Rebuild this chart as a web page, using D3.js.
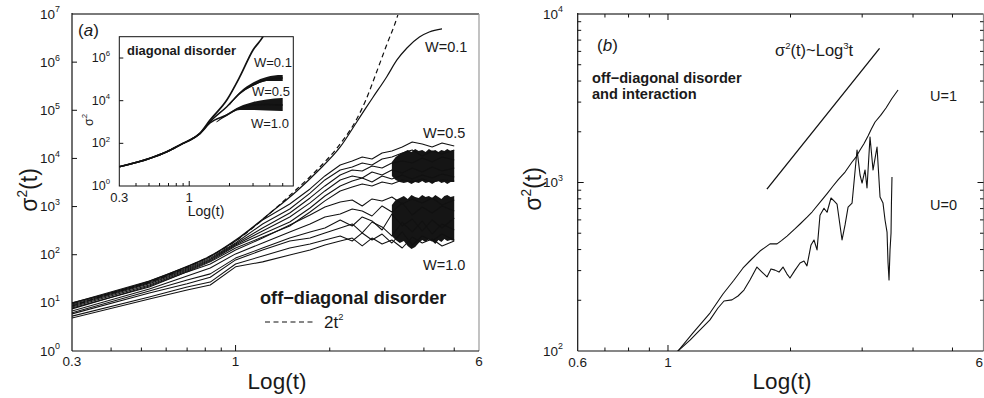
<!DOCTYPE html>
<html>
<head>
<meta charset="utf-8">
<script src="https://cdn.jsdelivr.net/npm/d3@7"></script>
<style>
  body { margin: 0; background: #fff; }
  svg { display: block; font-family: "Liberation Sans", Arial, sans-serif; }
</style>
</head>
<body>
<svg id="fig" width="984" height="398"></svg>
<script>
// ---------------- data: panel (a), off-diagonal disorder ----------------
// shared log(t) grid for the W=0.5 and W=1.0 runs
const mainGrid = [0.30, 0.53, 0.70, 0.83, 1.00, 1.22, 1.49, 1.73, 1.93, 2.16, 2.36,
                  2.54, 2.73, 2.94, 3.16, 3.41, 3.67, 3.95, 4.25, 4.57, 5.00];

const w05Runs = [
  [9.9, 28.5, 56, 90, 193, 526, 1130, 2320, 4320, 7300, 8850, 10720, 9730, 12980, 14280, 17300, 21950, 19950, 17300, 20900, 18100],
  [9.5, 27, 53, 85, 175, 435, 891, 1910, 3570, 5750, 6640, 8040, 7300, 9730, 10720, 12980, 14970, 11240, 14280, 12370, 14970],
  [9.0, 26, 50.5, 81, 167, 359, 736, 1510, 2680, 4530, 5750, 5480, 6960, 6330, 8040, 8850, 8040, 10210, 8440, 10720, 9290],
  [8.6, 25, 48, 78, 159, 311, 608, 1190, 2110, 3570, 4320, 3920, 5230, 4530, 5750, 4980, 6330, 5230, 6640, 5480, 6330],
  [8.2, 23.5, 46, 74, 152, 269, 478, 934, 1660, 2680, 3400, 3920, 3240, 4320, 3740, 4530, 3740, 4530, 3920, 4750, 4120],
  [7.8, 21.3, 44, 71, 138, 233, 395, 772, 1310, 2110, 2550, 2940, 2680, 3240, 2940, 3570, 3240, 3740, 3240, 3570, 3400]
];

const w10Runs = [
  [7.5, 22.4, 44, 64, 125, 222, 414, 668, 980, 1250, 1370, 1030, 1440, 1310, 1580, 1130, 1440, 1190, 1510, 1080, 1370],
  [6.8, 19.4, 36, 53, 104, 175, 297, 435, 608, 701, 891, 809, 637, 1030, 772, 1190, 668, 980, 736, 1030, 809],
  [6.2, 17.6, 30, 40, 85, 138, 222, 297, 359, 526, 395, 608, 502, 326, 701, 395, 552, 311, 526, 359, 579],
  [5.9, 16, 25, 34, 78, 125, 193, 222, 283, 359, 435, 283, 478, 377, 245, 478, 297, 502, 269, 435, 326],
  [5.3, 13.2, 21.3, 27, 64, 94, 138, 167, 202, 245, 193, 283, 202, 269, 175, 297, 159, 245, 193, 269, 202],
  [4.85, 12, 18.5, 23.5, 56, 71, 99, 125, 159, 193, 222, 152, 222, 167, 202, 138, 233, 175, 212, 152, 193]
];

// envelopes of the strongly fluctuating late-time parts
const bandGrid = [3.16, 3.25, 3.35, 3.45, 3.55, 3.65, 3.75, 3.85, 3.95, 4.05,
                  4.15, 4.25, 4.35, 4.45, 4.55, 4.65, 4.75, 4.87, 5.00];
const w05BandHi = [8440, 10720, 12370, 13620, 14970, 13620, 15700, 14280, 14970, 13620,
                   15700, 14280, 14970, 13620, 14970, 14280, 15700, 14280, 14970];
const w05BandLo = [4320, 3570, 3240, 3090, 3240, 2940, 3240, 3090, 3400, 3090,
                   3240, 2940, 3240, 3400, 3090, 3240, 2940, 3240, 3240];
const w10BandHi = [1080, 1370, 1510, 1660, 1440, 1740, 1580, 1510, 1740, 1580,
                   1660, 1510, 1740, 1580, 1440, 1660, 1740, 1580, 1660];
const w10BandLo = [245, 202, 175, 193, 152, 131, 145, 175, 202, 184,
                   212, 193, 167, 202, 184, 212, 193, 202, 193];

const w01Run = [[0.30, 10], [0.396, 16], [0.532, 28.5], [0.704, 58], [0.83, 94], [1.00, 202],
  [1.29, 736], [1.57, 2110], [1.82, 5230], [2.16, 17300], [2.44, 57100], [2.61, 112000], [2.74, 180000],
  [3.04, 492000], [3.28, 1.11e6], [3.53, 1.97e6], [3.87, 3.33e6], [4.16, 4.24e6], [4.57, 4.89e6]];

// ballistic reference 2t^2
const ballistic = [[0.30, 8.6], [0.396, 15.3], [0.532, 27], [0.704, 56], [1.00, 192], [1.29, 736],
  [1.57, 2320], [1.82, 5750], [2.16, 20000], [2.44, 66000], [2.61, 164000], [2.80, 540000],
  [3.04, 2.27e6], [3.30, 9.5e6], [3.37, 1.54e7]];

// ---------------- data: inset, diagonal disorder ----------------
const insetW01 = [[0.30, 8], [0.51, 20], [0.68, 40.5], [0.90, 100], [1.01, 143], [1.20, 296],
  [1.43, 1240], [1.91, 10760], [2.39, 1.33e5], [3.00, 2.38e6], [3.56, 1e7], [3.80, 2.2e7]];
const insetW05 = [[0.30, 8], [0.51, 20], [0.68, 40.5], [0.90, 100], [1.01, 143], [1.20, 290],
  [1.43, 1035], [1.91, 5220], [2.39, 2.22e4], [3.00, 5.43e4], [3.79, 9.3e4], [4.92, 1.15e5], [5.00, 1.15e5]];
const insetW10 = [[0.30, 8], [0.51, 20], [0.68, 40.5], [0.90, 100], [1.01, 140], [1.20, 280],
  [1.43, 899], [1.91, 2130], [2.39, 4540], [3.00, 6270], [3.79, 6600], [4.92, 6270], [5.00, 6270]];
const insetBand05X = [2.00, 2.39, 3.00, 3.79, 4.92, 5.00];
const insetBand05Hi = [6620, 25500, 71100, 1.29e5, 1.60e5, 1.60e5];
const insetBand05Lo = [5940, 20600, 48700, 8.37e4, 8.37e4, 8.37e4];
const insetBand10X = [1.60, 1.91, 2.39, 3.00, 3.79, 4.92, 5.00];
const insetBand10Hi = [1057, 2375, 5330, 8670, 11360, 13400, 13400];
const insetBand10Lo = [948, 1914, 3655, 3655, 3465, 3280, 3280];

// ---------------- data: panel (b), disorder and interaction ----------------
const u1Run = [[1.04, 95], [1.058, 100], [1.152, 128], [1.268, 168], [1.365, 218], [1.45, 262],
  [1.529, 311], [1.60, 348], [1.683, 392], [1.781, 432], [1.853, 432], [1.90, 452], [1.961, 481],
  [2.05, 530], [2.111, 567], [2.20, 625], [2.259, 668], [2.390, 788], [2.46, 860], [2.544, 953],
  [2.62, 1040], [2.723, 1154], [2.833, 1323], [2.90, 1420], [2.964, 1559], [3.03, 1700],
  [3.101, 1888], [3.16, 2080], [3.227, 2286], [3.33, 2500], [3.433, 2768], [3.55, 3150], [3.675, 3540]];

const u0Run = [[1.05, 95], [1.058, 100], [1.133, 116], [1.179, 128], [1.268, 153], [1.327, 180],
  [1.373, 198], [1.436, 201], [1.486, 212], [1.537, 230], [1.590, 264], [1.654, 315], [1.702, 294],
  [1.751, 275], [1.791, 307], [1.832, 302], [1.874, 294], [1.917, 315], [1.961, 286], [1.994, 271],
  [2.052, 302], [2.111, 333], [2.158, 342], [2.195, 320], [2.246, 426], [2.284, 456], [2.324, 398],
  [2.363, 639], [2.417, 703], [2.459, 666], [2.515, 809], [2.558, 777], [2.602, 745], [2.677, 456],
  [2.723, 560], [2.770, 715], [2.833, 755], [2.914, 1559], [2.964, 1108], [2.998, 993], [3.049, 1187],
  [3.083, 928], [3.136, 1862], [3.190, 1187], [3.263, 1624], [3.319, 820], [3.375, 755], [3.414, 599],
  [3.453, 508], [3.472, 337], [3.492, 264], [3.512, 398], [3.532, 502], [3.540, 756], [3.551, 1078]];

const powerLaw = [[1.75, 914], [3.31, 6250]];

// tick values
const mainXMinor = [0.4, 0.5, 0.6, 0.7, 0.8, 0.9, 2, 3, 4, 5];
const mainXLabels = [[0.3, "0.3"], [1, "1"], [6, "6"]];
const mainYExp = [0, 1, 2, 3, 4, 5, 6, 7];
const insetYExp = [0, 2, 4, 6];
const insetXLabels = [[0.3, "0.3"], [1, "1"]];
const rightXMinor = [0.7, 0.8, 0.9, 2, 3, 4, 5];
const rightXLabels = [[0.6, "0.6"], [1, "1"]];
const rightYExp = [2, 3, 4];
const rightYMinor = [200, 300, 400, 500, 600, 700, 800, 900, 2000, 3000, 4000, 5000, 6000, 7000, 8000, 9000];

// ---------------- drawing ----------------
const svg = d3.select("#fig");
const INK = "#111";
const TXT = "#1a1a1a";
const defs = svg.append("defs");

function clip(id, x, y, w, h) {
  defs.append("clipPath").attr("id", id).append("rect")
    .attr("x", x).attr("y", y).attr("width", w).attr("height", h);
  return "url(#" + id + ")";
}

// rich text: parts = [text, {sup:"2"}, {it:"a"}, ...]
function rich(g, x, y, parts, o) {
  const fs = o.size;
  const t = g.append("text").attr("x", x).attr("y", y)
    .attr("font-size", fs).attr("fill", TXT)
    .attr("text-anchor", o.anchor || "start")
    .attr("font-weight", o.weight || "normal");
  if (o.transform) t.attr("transform", o.transform).attr("x", 0).attr("y", 0);
  let raised = false;
  const shift = fs * 0.45;
  parts.forEach(p => {
    if (typeof p === "string") {
      const s = t.append("tspan").text(p);
      if (raised) { s.attr("dy", shift); raised = false; }
    } else if (p.sup !== undefined) {
      t.append("tspan").attr("font-size", fs * (o.supScale || 0.62)).attr("dy", -shift).text(p.sup);
      raised = true;
    } else if (p.it !== undefined) {
      const s = t.append("tspan").attr("font-style", "italic").text(p.it);
      if (raised) { s.attr("dy", shift); raised = false; }
    }
  });
  return t;
}

function frame(g, x0, x1, y0, y1, rightColor) {
  g.append("line").attr("x1", x0).attr("x2", x1).attr("y1", y0).attr("y2", y0)
    .attr("stroke", "#7a7a7a").attr("stroke-width", 2);
  g.append("line").attr("x1", x1).attr("x2", x1).attr("y1", y0).attr("y2", y1)
    .attr("stroke", rightColor).attr("stroke-width", 1.2);
  g.append("line").attr("x1", x0).attr("x2", x0).attr("y1", y0 - 1).attr("y2", y1)
    .attr("stroke", INK).attr("stroke-width", 1.2);
  g.append("line").attr("x1", x0).attr("x2", x1).attr("y1", y1).attr("y2", y1)
    .attr("stroke", INK).attr("stroke-width", 1.2);
}

function vtick(g, x, y, len) {
  g.append("line").attr("x1", x).attr("x2", x).attr("y1", y).attr("y2", y + len)
    .attr("stroke", INK).attr("stroke-width", 1);
}
function htick(g, x, y, len) {
  g.append("line").attr("x1", x).attr("x2", x + len).attr("y1", y).attr("y2", y)
    .attr("stroke", INK).attr("stroke-width", 1);
}

// ===== panel (a) =====
const xA = d3.scaleLog().domain([0.3, 6]).range([72, 479]);
const yA = d3.scaleLog().domain([1, 1e7]).range([351, 14]);
const gA = svg.append("g");
const plotA = gA.append("g").attr("clip-path", clip("clipA", 72, 14, 407, 337));

const gridLine = d3.line().x((d, i) => xA(mainGrid[i])).y(d => yA(d));
const bandArea = (hi, lo) => d3.area()
  .x((d, i) => xA(bandGrid[i])).y0((d, i) => yA(lo[i])).y1((d, i) => yA(hi[i]))(bandGrid);

plotA.append("path").attr("d", bandArea(w05BandHi, w05BandLo)).attr("fill", "#151515");
plotA.append("path").attr("d", bandArea(w10BandHi, w10BandLo)).attr("fill", "#151515");

[...w05Runs, ...w10Runs].forEach(run => {
  plotA.append("path").attr("d", gridLine(run)).attr("fill", "none")
    .attr("stroke", INK).attr("stroke-width", 1.05).attr("stroke-linejoin", "round");
});
const smoothA = d3.line().x(d => xA(d[0])).y(d => yA(d[1])).curve(d3.curveMonotoneX);
plotA.append("path").attr("d", smoothA(w01Run)).attr("fill", "none")
  .attr("stroke", INK).attr("stroke-width", 1.2);
plotA.append("path").attr("d", smoothA(ballistic))
  .attr("fill", "none").attr("stroke", INK).attr("stroke-width", 1.2).attr("stroke-dasharray", "5,3.5");

frame(gA, 72, 479, 14, 351, "#9a9a9a");
mainXMinor.forEach(v => vtick(gA, xA(v), 351, -3.5));
vtick(gA, xA(1), 351, -6);
mainYExp.slice(1, -1).forEach(e => htick(gA, 72, yA(Math.pow(10, e)), 5));

mainXLabels.forEach(([v, s]) => {
  gA.append("text").attr("x", xA(v)).attr("y", 366).attr("text-anchor", "middle")
    .attr("font-size", 13.5).attr("fill", TXT).text(s);
});
mainYExp.forEach(e => rich(gA, 60, yA(Math.pow(10, e)) + 4.5, ["10", { sup: String(e) }],
  { size: 13.5, anchor: "end", supScale: 0.66 }));

rich(gA, 0, 0, ["Log(t)"], { size: 22.5, anchor: "middle", transform: "translate(277,389)" });
rich(gA, 0, 0, ["σ", { sup: "2" }, "(t)"], { size: 23, anchor: "middle", transform: "translate(37,190) rotate(-90)", supScale: 0.6 });
rich(gA, 78, 36, ["(", { it: "a" }, ")"], { size: 17 });

[["W=0.1", 425, 52], ["W=0.5", 423, 138], ["W=1.0", 423, 270]].forEach(([s, x, y]) => {
  gA.append("text").attr("x", x).attr("y", y).attr("font-size", 14.5).attr("fill", TXT).text(s);
});
gA.append("text").attr("x", 260).attr("y", 303.5).attr("font-size", 18.2).attr("font-weight", "bold")
  .attr("fill", TXT).text("off\u2212diagonal disorder");
gA.append("line").attr("x1", 265).attr("x2", 315).attr("y1", 322).attr("y2", 322)
  .attr("stroke", INK).attr("stroke-width", 1.2).attr("stroke-dasharray", "5,3.5");
rich(gA, 324, 328, ["2t", { sup: "2" }], { size: 17, supScale: 0.55 });

// ===== inset =====
const xI = d3.scaleLog().domain([0.3, 6]).range([119.3, 293.3]);
const yI = d3.scaleLog().domain([1, 1e7]).range([186, 36.7]);
const gI = svg.append("g");
gI.append("rect").attr("x", 119.3).attr("y", 36.7).attr("width", 174).attr("height", 149.3).attr("fill", "#fff");
const plotI = gI.append("g").attr("clip-path", clip("clipI", 119.3, 36.7, 174, 149.3));
const lineI = d3.line().x(d => xI(d[0])).y(d => yI(d[1])).curve(d3.curveMonotoneX);
const areaI = (xs, hi, lo) => d3.area().x((d, i) => xI(xs[i])).y0((d, i) => yI(lo[i])).y1((d, i) => yI(hi[i]))
  .curve(d3.curveMonotoneX)(xs);
plotI.append("path").attr("d", areaI(insetBand05X, insetBand05Hi, insetBand05Lo)).attr("fill", "#151515");
plotI.append("path").attr("d", areaI(insetBand10X, insetBand10Hi, insetBand10Lo)).attr("fill", "#151515");
[insetW10, insetW05].forEach(r => plotI.append("path").attr("d", lineI(r)).attr("fill", "none")
  .attr("stroke", INK).attr("stroke-width", 1.5));
plotI.append("path").attr("d", lineI(insetW01)).attr("fill", "none").attr("stroke", INK).attr("stroke-width", 1.7);

gI.append("rect").attr("x", 119.3).attr("y", 36.7).attr("width", 174).attr("height", 149.3)
  .attr("fill", "none").attr("stroke", INK).attr("stroke-width", 1);
mainXMinor.forEach(v => vtick(gI, xI(v), 186, -3));
vtick(gI, xI(1), 186, -5);
insetYExp.slice(1).forEach(e => htick(gI, 119.3, yI(Math.pow(10, e)), 4));
insetYExp.forEach(e => rich(gI, 110, yI(Math.pow(10, e)) + 4, ["10", { sup: String(e) }],
  { size: 12.5, anchor: "end", supScale: 0.62 }));
insetXLabels.forEach(([v, s]) => gI.append("text").attr("x", xI(v)).attr("y", 202)
  .attr("text-anchor", "middle").attr("font-size", 13).attr("fill", TXT).text(s));
rich(gI, 0, 0, ["Log(t)"], { size: 14, anchor: "middle", transform: "translate(206,216)" });
rich(gI, 0, 0, ["σ", { sup: "2" }], { size: 12.5, anchor: "middle", transform: "translate(93,120) rotate(-90)" });
gI.append("text").attr("x", 127).attr("y", 54.5).attr("font-size", 13).attr("font-weight", "bold")
  .attr("fill", TXT).text("diagonal disorder");
[["W=0.1", 254, 67], ["W=0.5", 252, 96], ["W=1.0", 251, 128]].forEach(([s, x, y]) => {
  gI.append("text").attr("x", x).attr("y", y).attr("font-size", 13).attr("fill", TXT).text(s);
});

// ===== panel (b) =====
const xB = d3.scaleLog().domain([0.6, 6]).range([577.7, 984.7]);
const yB = d3.scaleLog().domain([100, 1e4]).range([351, 14]);
const gB = svg.append("g");
const plotB = gB.append("g").attr("clip-path", clip("clipB", 577.7, 14, 407, 337));
const lineB = d3.line().x(d => xB(d[0])).y(d => yB(d[1]));
plotB.append("path").attr("d", lineB(powerLaw)).attr("fill", "none").attr("stroke", INK).attr("stroke-width", 1.3);
plotB.append("path").attr("d", lineB(u1Run)).attr("fill", "none").attr("stroke", INK)
  .attr("stroke-width", 1.1).attr("stroke-linejoin", "round");
plotB.append("path").attr("d", lineB(u0Run)).attr("fill", "none").attr("stroke", INK)
  .attr("stroke-width", 1.1).attr("stroke-linejoin", "round");

frame(gB, 577.7, 983.5, 14, 351, "#8a8a8a");
rightXMinor.forEach(v => { vtick(gB, xB(v), 351, -3.5); vtick(gB, xB(v), 14, 3.5); });
vtick(gB, xB(1), 351, -6); vtick(gB, xB(1), 14, 6);
rightYMinor.forEach(v => { htick(gB, 577.7, yB(v), 3.5); htick(gB, 983.5, yB(v), -3.5); });
htick(gB, 577.7, yB(1000), 6); htick(gB, 983.5, yB(1000), -6);

rightXLabels.forEach(([v, s]) => gB.append("text").attr("x", xB(v)).attr("y", 367)
  .attr("text-anchor", "middle").attr("font-size", 13.5).attr("fill", TXT).text(s));
// the last tick label sits at the window edge; keep it fully inside
gB.append("text").attr("x", Math.min(xB(6), 983)).attr("y", 367).attr("text-anchor", "end")
  .attr("font-size", 13.5).attr("fill", TXT).text("6");
rightYExp.forEach(e => rich(gB, 563, yB(Math.pow(10, e)) + 4.5, ["10", { sup: String(e) }],
  { size: 13.5, anchor: "end", supScale: 0.66 }));
rich(gB, 0, 0, ["Log(t)"], { size: 22.5, anchor: "middle", transform: "translate(782,389)" });
rich(gB, 0, 0, ["σ", { sup: "2" }, "(t)"], { size: 23, anchor: "middle", transform: "translate(541,189) rotate(-90)", supScale: 0.6 });
rich(gB, 597, 51, ["(", { it: "b" }, ")"], { size: 17 });
rich(gB, 775, 56, ["σ", { sup: "2" }, "(t)~Log", { sup: "3" }, "t"], { size: 16.5, supScale: 0.58 });
gB.append("text").attr("x", 592).attr("y", 83).attr("font-size", 14.6).attr("font-weight", "bold")
  .attr("fill", TXT).text("off\u2212diagonal disorder");
gB.append("text").attr("x", 592).attr("y", 99).attr("font-size", 14.6).attr("font-weight", "bold")
  .attr("fill", TXT).text("and interaction");
gB.append("text").attr("x", 930).attr("y", 101).attr("font-size", 14.5).attr("fill", TXT).text("U=1");
gB.append("text").attr("x", 930).attr("y", 210).attr("font-size", 14.5).attr("fill", TXT).text("U=0");
</script>
</body>
</html>
